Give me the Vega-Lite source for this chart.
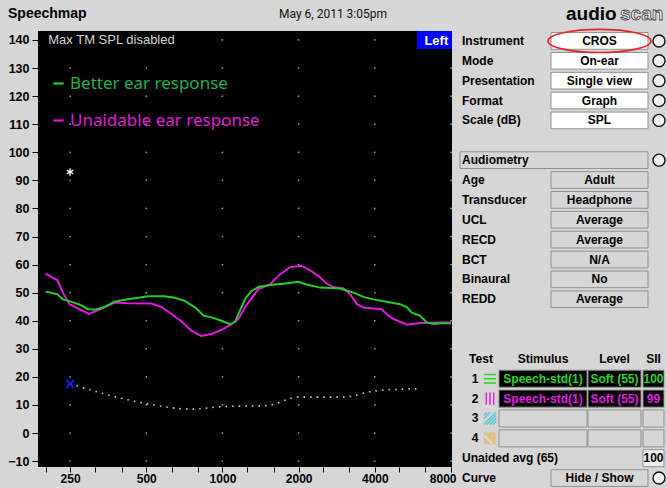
{
  "$schema": "https://vega.github.io/schema/vega-lite/v6.json",
  "background": "#d6d6d6",
  "padding": 0,
  "config": {
    "view": {"stroke": null},
    "font": "Liberation Sans",
    "axis": {"domain": false, "grid": false, "labelColor": "#000000", "tickColor": "#000000", "labelFont": "Liberation Sans", "labelFontWeight": "bold", "labelFontSize": 12},
    "axisY": {"labelOverlap": false, "labelBound": false}
  },
  "datasets": {
    "header": [
      {"text": "Speechmap", "part": "title"},
      {"text": "May 6, 2011 3:05pm", "part": "date"},
      {"text": "audio", "part": "logo1"},
      {"text": "scan", "part": "logo2"}
    ],
    "response": [
      {"series": "Unaidable ear response", "f": 200, "db": 56.8},
      {"series": "Unaidable ear response", "f": 223, "db": 54.4},
      {"series": "Unaidable ear response", "f": 234, "db": 50.0},
      {"series": "Unaidable ear response", "f": 249, "db": 45.9},
      {"series": "Unaidable ear response", "f": 272, "db": 44.1},
      {"series": "Unaidable ear response", "f": 297, "db": 42.4},
      {"series": "Unaidable ear response", "f": 329, "db": 44.1},
      {"series": "Unaidable ear response", "f": 375, "db": 46.5},
      {"series": "Unaidable ear response", "f": 423, "db": 46.2},
      {"series": "Unaidable ear response", "f": 524, "db": 46.1},
      {"series": "Unaidable ear response", "f": 575, "db": 44.9},
      {"series": "Unaidable ear response", "f": 628, "db": 42.4},
      {"series": "Unaidable ear response", "f": 688, "db": 39.8},
      {"series": "Unaidable ear response", "f": 753, "db": 36.5},
      {"series": "Unaidable ear response", "f": 825, "db": 34.6},
      {"series": "Unaidable ear response", "f": 906, "db": 35.3},
      {"series": "Unaidable ear response", "f": 990, "db": 36.7},
      {"series": "Unaidable ear response", "f": 1087, "db": 38.8},
      {"series": "Unaidable ear response", "f": 1156, "db": 40.6},
      {"series": "Unaidable ear response", "f": 1237, "db": 45.3},
      {"series": "Unaidable ear response", "f": 1384, "db": 51.2},
      {"series": "Unaidable ear response", "f": 1540, "db": 52.9},
      {"series": "Unaidable ear response", "f": 1687, "db": 56.5},
      {"series": "Unaidable ear response", "f": 1850, "db": 59.1},
      {"series": "Unaidable ear response", "f": 2055, "db": 59.6},
      {"series": "Unaidable ear response", "f": 2220, "db": 57.9},
      {"series": "Unaidable ear response", "f": 2400, "db": 55.9},
      {"series": "Unaidable ear response", "f": 2580, "db": 53.2},
      {"series": "Unaidable ear response", "f": 2750, "db": 52.0},
      {"series": "Unaidable ear response", "f": 3010, "db": 51.5},
      {"series": "Unaidable ear response", "f": 3200, "db": 49.4},
      {"series": "Unaidable ear response", "f": 3400, "db": 45.9},
      {"series": "Unaidable ear response", "f": 3610, "db": 44.7},
      {"series": "Unaidable ear response", "f": 4250, "db": 44.1},
      {"series": "Unaidable ear response", "f": 4450, "db": 42.4},
      {"series": "Unaidable ear response", "f": 4740, "db": 40.6},
      {"series": "Unaidable ear response", "f": 5200, "db": 39.1},
      {"series": "Unaidable ear response", "f": 5350, "db": 38.6},
      {"series": "Unaidable ear response", "f": 6030, "db": 39.2},
      {"series": "Unaidable ear response", "f": 7240, "db": 39.4},
      {"series": "Unaidable ear response", "f": 8000, "db": 39.4},
      {"series": "Better ear response", "f": 200, "db": 50.4},
      {"series": "Better ear response", "f": 223, "db": 49.4},
      {"series": "Better ear response", "f": 234, "db": 47.6},
      {"series": "Better ear response", "f": 252, "db": 46.8},
      {"series": "Better ear response", "f": 277, "db": 45.5},
      {"series": "Better ear response", "f": 294, "db": 44.1},
      {"series": "Better ear response", "f": 316, "db": 44.0},
      {"series": "Better ear response", "f": 342, "db": 44.9},
      {"series": "Better ear response", "f": 375, "db": 46.8},
      {"series": "Better ear response", "f": 411, "db": 47.5},
      {"series": "Better ear response", "f": 463, "db": 48.2},
      {"series": "Better ear response", "f": 507, "db": 48.7},
      {"series": "Better ear response", "f": 590, "db": 48.7},
      {"series": "Better ear response", "f": 647, "db": 48.2},
      {"series": "Better ear response", "f": 710, "db": 47.1},
      {"series": "Better ear response", "f": 781, "db": 44.7},
      {"series": "Better ear response", "f": 843, "db": 41.8},
      {"series": "Better ear response", "f": 906, "db": 41.2},
      {"series": "Better ear response", "f": 990, "db": 40.0},
      {"series": "Better ear response", "f": 1071, "db": 38.8},
      {"series": "Better ear response", "f": 1122, "db": 39.6},
      {"series": "Better ear response", "f": 1171, "db": 43.5},
      {"series": "Better ear response", "f": 1237, "db": 48.2},
      {"series": "Better ear response", "f": 1300, "db": 50.5},
      {"series": "Better ear response", "f": 1384, "db": 52.0},
      {"series": "Better ear response", "f": 1540, "db": 52.7},
      {"series": "Better ear response", "f": 1739, "db": 53.2},
      {"series": "Better ear response", "f": 1994, "db": 53.9},
      {"series": "Better ear response", "f": 2150, "db": 52.9},
      {"series": "Better ear response", "f": 2430, "db": 51.8},
      {"series": "Better ear response", "f": 2915, "db": 51.5},
      {"series": "Better ear response", "f": 3290, "db": 50.0},
      {"series": "Better ear response", "f": 3610, "db": 48.5},
      {"series": "Better ear response", "f": 3950, "db": 47.6},
      {"series": "Better ear response", "f": 4450, "db": 46.8},
      {"series": "Better ear response", "f": 5030, "db": 45.9},
      {"series": "Better ear response", "f": 5350, "db": 44.9},
      {"series": "Better ear response", "f": 5600, "db": 42.9},
      {"series": "Better ear response", "f": 6030, "db": 41.8},
      {"series": "Better ear response", "f": 6420, "db": 39.4},
      {"series": "Better ear response", "f": 6830, "db": 38.8},
      {"series": "Better ear response", "f": 7240, "db": 39.1},
      {"series": "Better ear response", "f": 8000, "db": 39.1}
    ],
    "threshold": [
      {"f": 250, "db": 17.5},
      {"f": 500, "db": 10.5},
      {"f": 750, "db": 8.5},
      {"f": 1000, "db": 9.4},
      {"f": 1500, "db": 9.8},
      {"f": 2000, "db": 12.8},
      {"f": 3000, "db": 12.8},
      {"f": 4000, "db": 15.0},
      {"f": 6000, "db": 15.8}
    ],
    "settings": [
      {"row": "Instrument", "label": "Instrument", "value": "CROS", "kind": "input"},
      {"row": "Mode", "label": "Mode", "value": "On-ear", "kind": "input"},
      {"row": "Presentation", "label": "Presentation", "value": "Single view", "kind": "input"},
      {"row": "Format", "label": "Format", "value": "Graph", "kind": "input"},
      {"row": "Scale (dB)", "label": "Scale (dB)", "value": "SPL", "kind": "input"},
      {"row": "Audiometry", "label": "Audiometry", "value": "", "kind": "section"},
      {"row": "Age", "label": "Age", "value": "Adult", "kind": "info"},
      {"row": "Transducer", "label": "Transducer", "value": "Headphone", "kind": "info"},
      {"row": "UCL", "label": "UCL", "value": "Average", "kind": "info"},
      {"row": "RECD", "label": "RECD", "value": "Average", "kind": "info"},
      {"row": "BCT", "label": "BCT", "value": "N/A", "kind": "info"},
      {"row": "Binaural", "label": "Binaural", "value": "No", "kind": "info"},
      {"row": "REDD", "label": "REDD", "value": "Average", "kind": "info"},
      {"row": "Unaided", "label": "Unaided avg (65)", "value": "", "kind": "label"},
      {"row": "Curve", "label": "Curve", "value": "Hide / Show", "kind": "action"}
    ],
    "tests": [
      {"row": "hdr", "test": "Test", "stimulus": "Stimulus", "level": "Level", "sii": "SII", "curve": "header"},
      {"row": "1", "test": "1", "stimulus": "Speech-std(1)", "level": "Soft (55)", "sii": "100", "curve": "Better ear response"},
      {"row": "2", "test": "2", "stimulus": "Speech-std(1)", "level": "Soft (55)", "sii": "99", "curve": "Unaidable ear response"},
      {"row": "3", "test": "3", "stimulus": "", "level": "", "sii": "", "curve": "Test 3"},
      {"row": "4", "test": "4", "stimulus": "", "level": "", "sii": "", "curve": "Test 4"},
      {"row": "Unaided", "test": "", "stimulus": "", "level": "", "sii": "100", "curve": "Unaided"}
    ]
  },
  "spacing": 2,
  "vconcat": [
    {
      "width": 629,
      "height": 23,
      "data": {"name": "header"},
      "layer": [
        {
          "transform": [{"filter": "datum.part == 'title'"}],
          "mark": {"type": "text", "align": "left", "baseline": "middle", "fontSize": 14, "fontWeight": "bold", "color": "#000000", "dy": 2.5},
          "encoding": {
            "x": {"datum": "title", "type": "nominal", "axis": null, "scale": {"domain": ["title"], "range": [-31, -29], "paddingInner": 0, "paddingOuter": 0}},
            "text": {"field": "text"}
          }
        },
        {
          "transform": [{"filter": "datum.part == 'date'"}],
          "mark": {"type": "text", "align": "center", "baseline": "middle", "fontSize": 12, "font": "Roboto", "color": "#111111", "dy": 2.5},
          "encoding": {
            "x": {"datum": "date", "type": "nominal", "axis": null, "scale": {"domain": ["date"], "range": [294, 296], "paddingInner": 0, "paddingOuter": 0}},
            "text": {"field": "text"}
          }
        },
        {
          "transform": [{"filter": "datum.part == 'logo1'"}],
          "mark": {"type": "text", "align": "left", "baseline": "middle", "fontSize": 19, "fontWeight": "bold", "color": "#000000", "dy": 2.5},
          "encoding": {
            "x": {"datum": "audio", "type": "nominal", "axis": null, "scale": {"domain": ["audio"], "range": [527, 529], "paddingInner": 0, "paddingOuter": 0}},
            "text": {"field": "text"}
          }
        },
        {
          "transform": [{"filter": "datum.part == 'logo2'"}],
          "mark": {"type": "text", "align": "left", "baseline": "middle", "fontSize": 19, "fontWeight": "bold", "fill": "#e6e6e6", "stroke": "#444444", "strokeWidth": 0.8, "dy": 2.5},
          "encoding": {
            "x": {"datum": "scan", "type": "nominal", "axis": null, "scale": {"domain": ["scan"], "range": [581, 583], "paddingInner": 0, "paddingOuter": 0}},
            "text": {"field": "text"}
          }
        }
      ],
      "resolve": {"scale": {"x": "independent"}}
    },
    {
      "spacing": 3,
      "bounds": "flush",
      "hconcat": [
        {
          "width": 414,
          "height": 436,
          "view": {"fill": "#000000", "stroke": null},
          "layer": [
            {
              "data": {"values": [
                {"f": 250, "db": [-10, 0, 10, 20, 30, 40, 50, 60, 70, 80, 90, 100, 110, 120, 130, 140]},
                {"f": 500, "db": [-10, 0, 10, 20, 30, 40, 50, 60, 70, 80, 90, 100, 110, 120, 130, 140]},
                {"f": 1000, "db": [-10, 0, 10, 20, 30, 40, 50, 60, 70, 80, 90, 100, 110, 120, 130, 140]},
                {"f": 2000, "db": [-10, 0, 10, 20, 30, 40, 50, 60, 70, 80, 90, 100, 110, 120, 130, 140]},
                {"f": 4000, "db": [-10, 0, 10, 20, 30, 40, 50, 60, 70, 80, 90, 100, 110, 120, 130, 140]},
                {"f": 8000, "db": [-10, 0, 10, 20, 30, 40, 50, 60, 70, 80, 90, 100, 110, 120, 130, 140]}
              ]},
              "transform": [{"flatten": ["db"]}],
              "mark": {"type": "point", "filled": true, "size": 3, "color": "#9a9a9a", "opacity": 1},
              "encoding": {
                "x": {"field": "f", "type": "quantitative", "title": null,
                  "scale": {"type": "log", "domain": [186.7, 8073], "nice": false},
                  "axis": {"values": [200, 250, 315, 400, 500, 630, 800, 1000, 1250, 1600, 2000, 2500, 3150, 4000, 5000, 6300, 8000],
                    "labelExpr": "indexof([250,500,1000,2000,4000,8000], datum.value) >= 0 ? format(datum.value, 'd') : ''",
                    "tickSize": 5, "labelPadding": 1, "labelFlush": true, "labelFlushOffset": 5, "labelOverlap": false, "labelBound": false, "title": null}},
                "y": {"field": "db", "type": "quantitative", "title": null,
                  "scale": {"domain": [-12.1, 143.2], "nice": false, "zero": false},
                  "axis": {"values": [-10, 0, 10, 20, 30, 40, 50, 60, 70, 80, 90, 100, 110, 120, 130, 140], "format": "d", "labelOverlap": false, "labelFontSize": 12.5, "tickSize": 6, "labelPadding": 3, "minExtent": 38, "maxExtent": 38, "title": null}}
              }
            },
            {
              "data": {"name": "threshold"},
              "mark": {"type": "line", "color": "#c9c9c9", "strokeWidth": 1.6, "strokeDash": [1.6, 5], "interpolate": "monotone"},
              "encoding": {
                "x": {"field": "f", "type": "quantitative", "title": null},
                "y": {"field": "db", "type": "quantitative", "title": null,
                  "axis": {"values": [-10, 0, 10, 20, 30, 40, 50, 60, 70, 80, 90, 100, 110, 120, 130, 140], "format": "d", "labelOverlap": false, "labelFontSize": 12.5, "tickSize": 6, "labelPadding": 3, "minExtent": 38, "maxExtent": 38, "title": null}}
              }
            },
            {
              "data": {"name": "threshold"},
              "transform": [{"filter": "datum.f == 250"}],
              "mark": {"type": "point", "shape": "M-1,-1L1,1M-1,1L1,-1", "size": 64, "filled": false, "stroke": "#1b1bff", "strokeWidth": 2, "opacity": 1},
              "encoding": {
                "x": {"field": "f", "type": "quantitative", "title": null},
                "y": {"field": "db", "type": "quantitative", "title": null,
                  "axis": {"values": [-10, 0, 10, 20, 30, 40, 50, 60, 70, 80, 90, 100, 110, 120, 130, 140], "format": "d", "labelOverlap": false, "labelFontSize": 12.5, "tickSize": 6, "labelPadding": 3, "minExtent": 38, "maxExtent": 38, "title": null}}
              }
            },
            {
              "data": {"values": [{"f": 250, "db": 93}]},
              "mark": {"type": "point", "shape": "M0,-1L0,1M-0.87,-0.5L0.87,0.5M-0.87,0.5L0.87,-0.5", "size": 56, "filled": false, "stroke": "#ffffff", "strokeWidth": 1.3, "opacity": 1},
              "encoding": {
                "x": {"field": "f", "type": "quantitative", "title": null},
                "y": {"field": "db", "type": "quantitative", "title": null,
                  "axis": {"values": [-10, 0, 10, 20, 30, 40, 50, 60, 70, 80, 90, 100, 110, 120, 130, 140], "format": "d", "labelOverlap": false, "labelFontSize": 12.5, "tickSize": 6, "labelPadding": 3, "minExtent": 38, "maxExtent": 38, "title": null}}
              }
            },
            {
              "data": {"values": [{"ear": "Left"}]},
              "mark": {"type": "rect", "color": "#0000ff"},
              "encoding": {
                "x": {"datum": 5868, "type": "quantitative"},
                "x2": {"datum": 8073},
                "y": {"datum": 143.2, "type": "quantitative",
                  "axis": {"values": [-10, 0, 10, 20, 30, 40, 50, 60, 70, 80, 90, 100, 110, 120, 130, 140], "format": "d", "labelOverlap": false, "labelFontSize": 12.5, "tickSize": 6, "labelPadding": 3, "minExtent": 38, "maxExtent": 38, "title": null}},
                "y2": {"datum": 136.8}
              }
            },
            {
              "data": {"values": [{"ear": "Left"}]},
              "mark": {"type": "text", "color": "#ffffff", "fontWeight": "bold", "fontSize": 13, "align": "center", "baseline": "middle"},
              "encoding": {
                "x": {"datum": 7000, "type": "quantitative"},
                "y": {"datum": 139.8, "type": "quantitative",
                  "axis": {"values": [-10, 0, 10, 20, 30, 40, 50, 60, 70, 80, 90, 100, 110, 120, 130, 140], "format": "d", "labelOverlap": false, "labelFontSize": 12.5, "tickSize": 6, "labelPadding": 3, "minExtent": 38, "maxExtent": 38, "title": null}},
                "text": {"field": "ear"}
              }
            },
            {
              "data": {"values": [{"note": "Max TM SPL disabled"}]},
              "mark": {"type": "text", "color": "#d4d4d4", "fontSize": 13, "align": "left", "baseline": "middle"},
              "encoding": {
                "x": {"datum": 205, "type": "quantitative"},
                "y": {"datum": 140, "type": "quantitative",
                  "axis": {"values": [-10, 0, 10, 20, 30, 40, 50, 60, 70, 80, 90, 100, 110, 120, 130, 140], "format": "d", "labelOverlap": false, "labelFontSize": 12.5, "tickSize": 6, "labelPadding": 3, "minExtent": 38, "maxExtent": 38, "title": null}},
                "text": {"field": "note"}
              }
            },
            {
              "data": {"name": "response"},
              "mark": {"type": "line", "strokeWidth": 2, "interpolate": "linear"},
              "encoding": {
                "x": {"field": "f", "type": "quantitative", "title": null},
                "y": {"field": "db", "type": "quantitative", "title": null,
                  "axis": {"values": [-10, 0, 10, 20, 30, 40, 50, 60, 70, 80, 90, 100, 110, 120, 130, 140], "format": "d", "labelOverlap": false, "labelFontSize": 12.5, "tickSize": 6, "labelPadding": 3, "minExtent": 38, "maxExtent": 38, "title": null}},
                "color": {"field": "series", "type": "nominal",
                  "scale": {"domain": ["Better ear response", "Unaidable ear response"], "range": ["#22d022", "#e018e0"]},
                  "legend": {"title": null, "orient": "none", "legendX": 12, "legendY": 75, "padding": 0,
                    "symbolType": "stroke", "symbolSize": 110, "symbolStrokeWidth": 2.2,
                    "labelFont": "Noto Sans", "labelFontSize": 17, "labelOffset": 3, "rowPadding": 19, "labelLimit": 400,
                    "encode": {
                      "labels": {"update": {"fill": {"signal": "datum.label == 'Better ear response' ? '#1db04f' : '#e01fd5'"}}},
                      "symbols": {"update": {"stroke": {"signal": "datum.value == 'Better ear response' ? '#1db04f' : '#e01fd5'"}}}
                    }}
                }
              }
            }
          ]
        },
        {
          "width": 212,
          "height": 457,
          "view": {"stroke": null},
          "encoding": {
            "y": {"field": "row", "type": "nominal", "axis": null,
              "scale": {"domain": ["Instrument", "Mode", "Presentation", "Format", "Scale (dB)", "gap1", "Audiometry", "Age", "Transducer", "UCL", "RECD", "BCT", "Binaural", "REDD", "gap2", "gap3", "hdr", "1", "2", "3", "4", "Unaided", "Curve"], "paddingInner": 0, "paddingOuter": 0}}
          },
          "layer": [
            {
              "data": {"name": "settings"},
              "transform": [{"filter": "datum.kind == 'input' || datum.kind == 'info' || datum.kind == 'action'"}],
              "encoding": {"x": {"datum": "value", "type": "nominal", "axis": null, "scale": {"domain": ["value"], "range": [96, 193], "paddingInner": 0, "paddingOuter": 0}}},
              "layer": [
                {
                  "mark": {"type": "rect", "stroke": "#8f8f8f", "strokeWidth": 1, "height": {"band": 0.84}},
                  "encoding": {"fill": {"field": "kind", "type": "nominal", "legend": null, "scale": {"domain": ["input", "info", "action"], "range": ["#ffffff", "#d6d6d6", "#d6d6d6"]}}}
                },
                {
                  "mark": {"type": "text", "fontWeight": "bold", "fontSize": 12, "color": "#000000", "align": "center", "baseline": "middle"},
                  "encoding": {"text": {"field": "value"}}
                },
                {
                  "transform": [{"filter": "datum.row == 'Instrument'"}],
                  "mark": {"type": "point", "shape": "M-1,0C-1,-0.124 -0.552,-0.225 0,-0.225C0.552,-0.225 1,-0.124 1,0C1,0.124 0.552,0.225 0,0.225C-0.552,0.225 -1,0.124 -1,0Z", "size": 10609, "filled": false, "stroke": "#e3262b", "strokeWidth": 1.6, "opacity": 1}
                }
              ]
            },
            {
              "data": {"name": "settings"},
              "transform": [{"filter": "datum.kind == 'section'"}],
              "mark": {"type": "rect", "stroke": "#8f8f8f", "strokeWidth": 1, "fill": "#d6d6d6", "height": {"band": 0.84}},
              "encoding": {"x": {"datum": "section", "type": "nominal", "axis": null, "scale": {"domain": ["section"], "range": [5, 193], "paddingInner": 0, "paddingOuter": 0}}}
            },
            {
              "data": {"name": "settings"},
              "transform": [{"filter": "datum.kind == 'input' || datum.kind == 'section' || datum.kind == 'action'"}],
              "mark": {"type": "point", "shape": "circle", "size": 144, "filled": true, "fill": "#f2f2f2", "stroke": "#111111", "strokeWidth": 1.4, "opacity": 1},
              "encoding": {"x": {"datum": "button", "type": "nominal", "axis": null, "scale": {"domain": ["button"], "range": [198, 210], "paddingInner": 0, "paddingOuter": 0}}}
            },
            {
              "data": {"name": "settings"},
              "mark": {"type": "text", "fontWeight": "bold", "fontSize": 12, "color": "#000000", "align": "left", "baseline": "middle"},
              "encoding": {
                "x": {"datum": "label", "type": "nominal", "axis": null, "scale": {"domain": ["label"], "range": [6, 8], "paddingInner": 0, "paddingOuter": 0}},
                "text": {"field": "label"}
              }
            },
            {
              "data": {"name": "tests"},
              "transform": [{"filter": "datum.row == 'hdr'"}],
              "mark": {"type": "text", "fontWeight": "bold", "fontSize": 12, "color": "#000000", "align": "center", "baseline": "middle"},
              "encoding": {
                "x": {"datum": "testhdr", "type": "nominal", "axis": null, "scale": {"domain": ["testhdr"], "range": [14, 38], "paddingInner": 0, "paddingOuter": 0}},
                "text": {"field": "test"}
              }
            },
            {
              "data": {"name": "tests"},
              "transform": [{"filter": "datum.row != 'hdr' && datum.row != 'Unaided'"}],
              "mark": {"type": "text", "fontWeight": "bold", "fontSize": 12, "color": "#000000", "align": "center", "baseline": "middle"},
              "encoding": {
                "x": {"datum": "num", "type": "nominal", "axis": null, "scale": {"domain": ["num"], "range": [14, 26], "paddingInner": 0, "paddingOuter": 0}},
                "text": {"field": "test"}
              }
            },
            {
              "data": {"name": "tests"},
              "transform": [{"filter": "datum.row != 'hdr' && datum.row != 'Unaided'"}],
              "mark": {"type": "point", "size": 150, "filled": false, "strokeWidth": 1.5, "opacity": 1},
              "encoding": {
                "x": {"datum": "icon", "type": "nominal", "axis": null, "scale": {"domain": ["icon"], "range": [28, 42], "paddingInner": 0, "paddingOuter": 0}},
                "shape": {"field": "curve", "type": "nominal", "legend": null,
                  "scale": {"domain": ["Better ear response", "Unaidable ear response", "Test 3", "Test 4"],
                    "range": ["M-1,-0.7L1,-0.7M-1,0L1,0M-1,0.7L1,0.7", "M-0.6,-1L-0.6,1M0,-1L0,1M0.6,-1L0.6,1", "M-1,0L0,-1M-1,1L1,-1M0,1L1,0M-1,-0.5L-0.5,-1M-0.5,1L1,-0.5M0.5,1L1,0.5", "M-1,0L0,1M-1,-1L1,1M0,-1L1,0M-1,0.5L-0.5,1M-0.5,-1L1,0.5M0.5,-1L1,-0.5"]}},
                "color": {"field": "curve", "type": "nominal", "legend": null,
                  "scale": {"domain": ["Better ear response", "Unaidable ear response", "Test 3", "Test 4"], "range": ["#2ad42a", "#e21ee2", "#5cc8d0", "#e8b468"]}}
              }
            },
            {
              "data": {"name": "tests"},
              "encoding": {"x": {"datum": "stim", "type": "nominal", "axis": null, "scale": {"domain": ["stim"], "range": [44, 132], "paddingInner": 0, "paddingOuter": 0}}},
              "layer": [
                {
                  "transform": [{"filter": "datum.row != 'hdr' && datum.row != 'Unaided'"}],
                  "mark": {"type": "rect", "stroke": "#8f8f8f", "strokeWidth": 1, "height": {"band": 0.86}},
                  "encoding": {"fill": {"field": "curve", "type": "nominal", "legend": null,
                    "scale": {"domain": ["header", "Better ear response", "Unaidable ear response", "Test 3", "Test 4", "Unaided"], "range": ["#d6d6d6", "#000000", "#000000", "#d6d6d6", "#d6d6d6", "#ececec"]}}}
                },
                {
                  "mark": {"type": "text", "fontWeight": "bold", "fontSize": 12, "align": "center", "baseline": "middle"},
                  "encoding": {"text": {"field": "stimulus"},
                    "color": {"field": "curve", "type": "nominal", "legend": null,
                      "scale": {"domain": ["header", "Better ear response", "Unaidable ear response", "Test 3", "Test 4", "Unaided"], "range": ["#000000", "#2ad42a", "#e21ee2", "#000000", "#000000", "#000000"]}}}
                }
              ]
            },
            {
              "data": {"name": "tests"},
              "encoding": {"x": {"datum": "level", "type": "nominal", "axis": null, "scale": {"domain": ["level"], "range": [133, 186], "paddingInner": 0, "paddingOuter": 0}}},
              "layer": [
                {
                  "transform": [{"filter": "datum.row != 'hdr' && datum.row != 'Unaided'"}],
                  "mark": {"type": "rect", "stroke": "#8f8f8f", "strokeWidth": 1, "height": {"band": 0.86}},
                  "encoding": {"fill": {"field": "curve", "type": "nominal", "legend": null,
                    "scale": {"domain": ["header", "Better ear response", "Unaidable ear response", "Test 3", "Test 4", "Unaided"], "range": ["#d6d6d6", "#000000", "#000000", "#d6d6d6", "#d6d6d6", "#ececec"]}}}
                },
                {
                  "mark": {"type": "text", "fontWeight": "bold", "fontSize": 12, "align": "center", "baseline": "middle"},
                  "encoding": {"text": {"field": "level"},
                    "color": {"field": "curve", "type": "nominal", "legend": null,
                      "scale": {"domain": ["header", "Better ear response", "Unaidable ear response", "Test 3", "Test 4", "Unaided"], "range": ["#000000", "#2ad42a", "#e21ee2", "#000000", "#000000", "#000000"]}}}
                }
              ]
            },
            {
              "data": {"name": "tests"},
              "encoding": {"x": {"datum": "sii", "type": "nominal", "axis": null, "scale": {"domain": ["sii"], "range": [188, 209], "paddingInner": 0, "paddingOuter": 0}}},
              "layer": [
                {
                  "transform": [{"filter": "datum.row != 'hdr'"}],
                  "mark": {"type": "rect", "stroke": "#8f8f8f", "strokeWidth": 1, "height": {"band": 0.86}},
                  "encoding": {"fill": {"field": "curve", "type": "nominal", "legend": null,
                    "scale": {"domain": ["header", "Better ear response", "Unaidable ear response", "Test 3", "Test 4", "Unaided"], "range": ["#d6d6d6", "#000000", "#000000", "#d6d6d6", "#d6d6d6", "#ececec"]}}}
                },
                {
                  "mark": {"type": "text", "fontWeight": "bold", "fontSize": 12, "align": "center", "baseline": "middle"},
                  "encoding": {"text": {"field": "sii"},
                    "color": {"field": "curve", "type": "nominal", "legend": null,
                      "scale": {"domain": ["header", "Better ear response", "Unaidable ear response", "Test 3", "Test 4", "Unaided"], "range": ["#000000", "#2ad42a", "#e21ee2", "#000000", "#000000", "#000000"]}}}
                }
              ]
            }
          ],
          "resolve": {"scale": {"x": "independent", "color": "independent", "fill": "independent", "shape": "independent"}}
        }
      ]
    }
  ]
}
